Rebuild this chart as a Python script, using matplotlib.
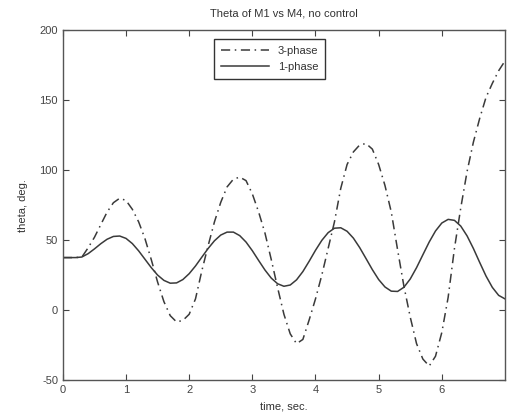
import numpy as np
import matplotlib.pyplot as plt

plt.rcParams['font.family'] = ['Liberation Sans', 'DejaVu Sans']
plt.rcParams['axes.unicode_minus'] = False

# time axis, sampled every 0.1 s
t = np.round(np.arange(0, 7.01, 0.1), 1)

three_phase = [37.5, 37.5, 37.5, 37.8, 44.5, 52, 61, 70, 76.7, 79.9,
               78.3, 72, 63, 51, 36, 20, 6, -4, -8.5, -7.4,
               -3, 8, 28, 46, 63, 77, 88, 93.5, 95, 92.5,
               83, 70, 55, 36, 16, -3, -17, -24, -21, -7,
               8, 25, 44, 63, 87, 104, 113, 118, 119, 115,
               104, 89, 70, 43, 17, -5, -24, -35, -40, -33,
               -16, 9, 44, 73, 99, 120, 137, 152, 162, 171,
               178]

one_phase = [37.5, 37.5, 37.5, 37.9, 40.3, 43.7, 47.4, 50.6, 52.6, 52.9,
             51.2, 47.5, 42.3, 36.3, 30.3, 25.0, 21.2, 19.2, 19.4, 21.8,
             26.0, 31.5, 37.8, 44.0, 49.5, 53.6, 55.7, 55.7, 53.2, 48.6,
             42.4, 35.4, 28.6, 22.8, 18.8, 17.0, 17.9, 21.6, 27.5, 34.9,
             42.7, 49.8, 55.3, 58.5, 58.8, 56.3, 51.4, 44.6, 36.8, 28.9,
             21.8, 16.5, 13.5, 13.3, 16.3, 22.2, 30.3, 39.5, 48.6, 56.5,
             62.2, 64.8, 64.1, 60.0, 53.0, 44.0, 34.0, 24.3, 16.2, 10.5,
             8.0]

fig = plt.figure(figsize=(5.07, 4.19), dpi=100)
ax = fig.add_axes([0.124, 0.093, 0.872, 0.835])

ax.plot(t, three_phase, color='#3a3a3a', lw=1.1, linestyle=(0, (6, 3, 1, 3)), label='3-phase')
ax.plot(t, one_phase, color='#3a3a3a', lw=1.1, label='1-phase')

ax.set_xlim(0, 7)
ax.set_ylim(-50, 200)
ax.set_xticks(range(0, 7))
ax.set_yticks([-50, 0, 50, 100, 150, 200])
ax.tick_params(direction='in', top=True, right=True, labelsize=8, length=4,
               colors='#444444')
for s in ax.spines.values():
    s.set_color('#555555')
    s.set_linewidth(1.0)

ax.set_title('Theta of M1 vs M4, no control', fontsize=8, color='#333333', pad=10)
ax.set_xlabel('time, sec.', fontsize=8, color='#333333', labelpad=5)
ax.set_ylabel('theta, deg.', fontsize=8, color='#333333', labelpad=8)

leg = ax.legend(loc='upper left', bbox_to_anchor=(0.33, 0.99), fontsize=8,
                fancybox=False, framealpha=1, edgecolor='#333333',
                handlelength=4.3, borderpad=0.6, labelspacing=0.55,
                handletextpad=0.8)
leg.get_frame().set_linewidth(1.0)
for txt in leg.get_texts():
    txt.set_color('#333333')

fig.savefig('out.png', dpi=100)
